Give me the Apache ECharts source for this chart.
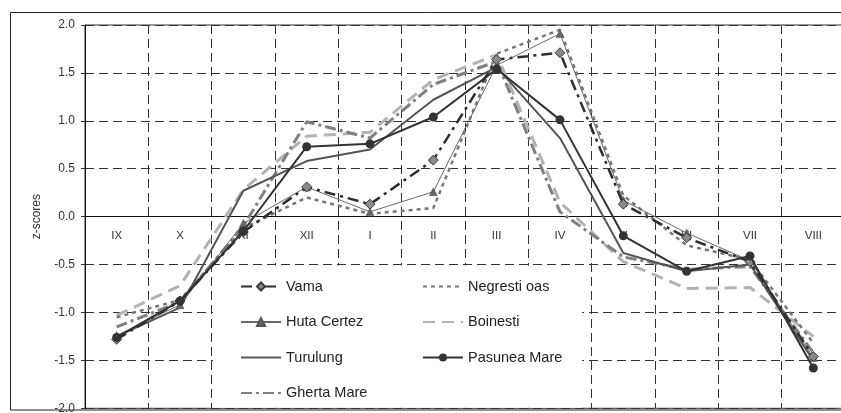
<!DOCTYPE html>
<html>
<head>
<meta charset="utf-8">
<script src="https://cdn.jsdelivr.net/npm/echarts@6/dist/echarts.min.js"></script>
<style>
html,body{margin:0;padding:0;background:#fff;}
#chart{width:841px;height:413px;}
</style>
</head>
<body>
<div id="chart"></div>
<script>
const months = ['IX','X','XI','XII','I','II','III','IV','V','VI','VII','VIII'];
const yTicks = [-2, 2, 0.5];
const vama        = [-1.28,-0.88,-0.16,0.31,0.13,0.59,1.64,1.71,0.13,-0.22,-0.47,-1.46];
const negresti    = [-1.05,-0.87,-0.12,0.20,0.03,0.09,1.70,1.95,0.22,-0.30,-0.45,-1.32];
const hutaCertez  = [-1.24,-0.92,-0.07,0.31,0.05,0.26,1.58,1.91,0.17,-0.17,-0.46,-1.47];
const boinesti    = [-1.03,-0.72,0.28,0.84,0.88,1.43,1.69,0.15,-0.47,-0.75,-0.74,-1.25];
const turulung    = [-1.25,-0.95,0.27,0.58,0.70,1.22,1.56,0.82,-0.38,-0.57,-0.50,-1.50];
const pasunea     = [-1.26,-0.88,-0.15,0.73,0.76,1.04,1.54,1.01,-0.20,-0.57,-0.41,-1.58];
const gherta      = [-1.15,-0.89,-0.10,0.99,0.82,1.38,1.62,0.05,-0.42,-0.55,-0.52,-1.42];

const chart = echarts.init(document.getElementById('chart'), null, {renderer:'canvas'});
const font = 'Liberation Sans, Arial, sans-serif';
const dashGrid = {type:[9,5], color:'#333', width:1};
const gridTop = 25, gridBottom = 4.7, H = 413;
const zeroOffset = -(H - gridBottom - gridTop) / 2;

const noMark = name => ({name:name, itemStyle:{opacity:0}});
const legendCommon = {
  orient:'vertical', top:279, height:130, itemWidth:40, itemHeight:10, itemGap:20.5,
  padding:0, z:4,
  textStyle:{fontFamily:font, fontSize:14.5, color:'#222', lineHeight:14}
};

chart.setOption({
  animation:false,
  backgroundColor:'#fff',
  textStyle:{fontFamily:font},
  graphic:[
    {type:'rect', z:-10, silent:true, shape:{x:10.5,y:12.5,width:840,height:397.5},
      style:{fill:'none', stroke:'#222', lineWidth:1}},
    {type:'rect', z:1, silent:true, shape:{x:213,y:265.5,width:369,height:142.3},
      style:{fill:'#fff', stroke:'none'}}
  ],
  grid:{left:85, top:gridTop, right:-4, bottom:gridBottom, show:true, borderColor:'#333', borderWidth:1,
    outerBoundsMode:'none', containLabel:false},
  legend:[
    Object.assign({}, legendCommon, {left:240,
      data:['Vama', 'Huta Certez', noMark('Turulung'), noMark('Gherta Mare')]}),
    Object.assign({}, legendCommon, {left:422,
      data:[noMark('Negresti oas'), noMark('Boinesti'), 'Pasunea Mare']})
  ],
  xAxis:[
    {type:'category', data:months, boundaryGap:true,
      axisLine:{onZero:true, lineStyle:{color:'#111', width:1}},
      axisTick:{show:false},
      axisLabel:{show:false},
      splitLine:{show:true, lineStyle:dashGrid}},
    {type:'category', data:months, boundaryGap:true, position:'bottom', offset:zeroOffset,
      axisLine:{show:false, onZero:false}, axisTick:{show:false}, splitLine:{show:false},
      axisLabel:{fontFamily:font, fontSize:11.5, color:'#333', margin:13}}
  ],
  yAxis:{type:'value', min:yTicks[0], max:yTicks[1], interval:yTicks[2],
    name:'z-scores', nameLocation:'middle', nameGap:42,
    nameTextStyle:{fontFamily:font, fontSize:12, color:'#333'},
    axisLine:{show:true, lineStyle:{color:'#111', width:1}},
    axisTick:{show:true, length:4, lineStyle:{color:'#333'}},
    axisLabel:{fontFamily:font, fontSize:12, color:'#333', margin:10,
      formatter:v=>v.toFixed(1)},
    splitLine:{show:true, lineStyle:dashGrid}},
  series:[
    {name:'Boinesti', type:'line', data:boinesti, symbol:'none', z:2,
      lineStyle:{color:'#b3b3b3', width:3, type:[12,7]}, itemStyle:{color:'#b3b3b3'}},
    {name:'Gherta Mare', type:'line', data:gherta, symbol:'none', z:3,
      lineStyle:{color:'#808080', width:3, type:[11,4,3,4]}, itemStyle:{color:'#808080'}},
    {name:'Negresti oas', type:'line', data:negresti, symbol:'none', z:3,
      lineStyle:{color:'#777', width:2.5, type:[4,4]}, itemStyle:{color:'#777'}},
    {name:'Turulung', type:'line', data:turulung, symbol:'none', z:4,
      lineStyle:{color:'#555', width:2}, itemStyle:{color:'#555'}},
    {name:'Huta Certez', type:'line', data:hutaCertez, symbol:'triangle', symbolSize:8, z:4,
      lineStyle:{color:'#6a6a6a', width:1}, itemStyle:{color:'#666', borderColor:'#555', borderWidth:0.5}},
    {name:'Vama', type:'line', data:vama, symbol:'diamond', symbolSize:10, z:5,
      lineStyle:{color:'#2e2e2e', width:2.5, type:[11,5,3,5]},
      itemStyle:{color:'#8a8a8a', borderColor:'#3a3a3a', borderWidth:1}},
    {name:'Pasunea Mare', type:'line', data:pasunea, symbol:'circle', symbolSize:9, z:6,
      lineStyle:{color:'#333', width:2}, itemStyle:{color:'#333'}}
  ]
});
</script>
</body>
</html>
